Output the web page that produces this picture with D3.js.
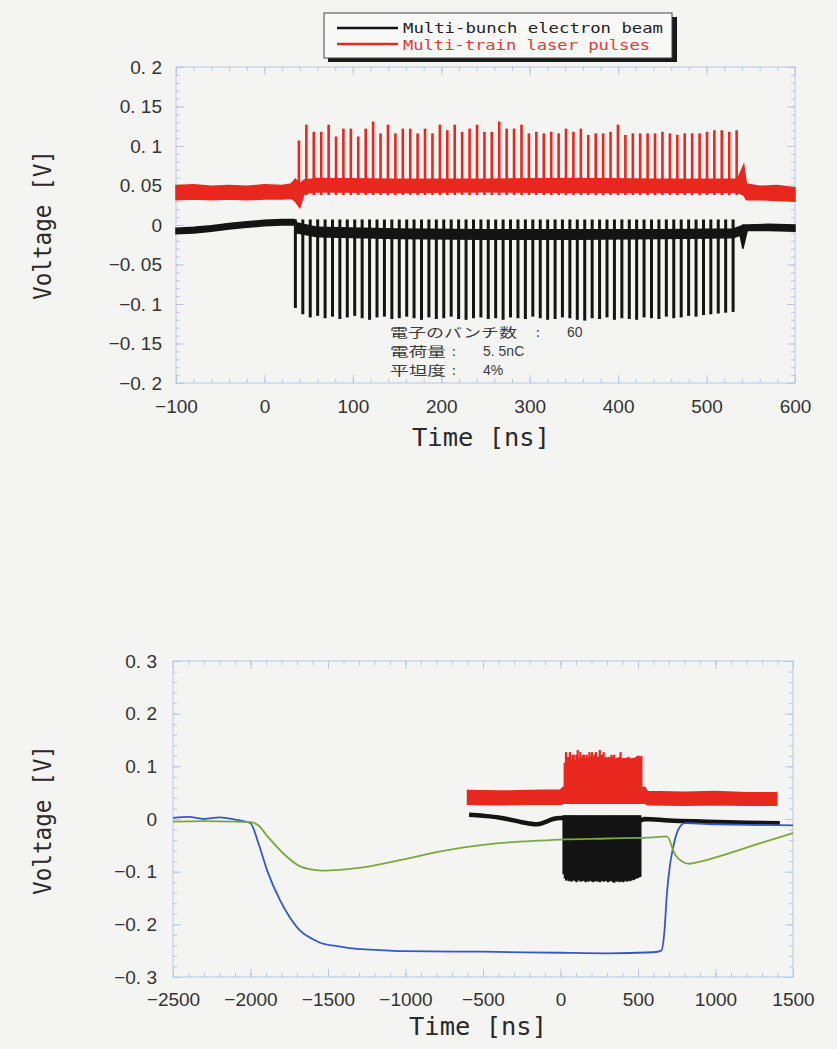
<!DOCTYPE html>
<html lang="ja">
<head>
<meta charset="UTF-8">
<title>Multi-bunch electron beam / Multi-train laser pulses</title>
<script src="https://d3js.org/d3.v7.min.js"></script>
<style>
  body { margin: 0; background: #f4f4f2; }
  .axis line { stroke: #b3c6e4; stroke-width: 1; }
  .axis text { font-family: "Liberation Sans", Arial, sans-serif; font-size: 19px; fill: #333; }
  .title { font-family: "DejaVu Sans Mono", monospace; font-size: 25px; fill: #2a2a2a; }
  .legend { font-family: "DejaVu Sans Mono", monospace; font-size: 14.5px; }
  .note { font-family: "Noto Sans CJK JP", sans-serif; font-size: 13px; fill: #3c3c3c; }
</style>
</head>
<body>
<svg id="chart" width="837" height="1049"></svg>
<script>
// ---- top panel axes ----
const topXTicks = [-100, 0, 100, 200, 300, 400, 500, 600];
const topXLabels = ["−100", "0", "100", "200", "300", "400", "500", "600"];
const topYTicks = [-0.2, -0.15, -0.1, -0.05, 0, 0.05, 0.1, 0.15, 0.2];
const topYLabels = ["−0. 2", "−0. 15", "−0. 1", "−0. 05", "0", "0. 05", "0. 1", "0. 15", "0. 2"];

// ---- bottom panel axes ----
const botXTicks = [-2500, -2000, -1500, -1000, -500, 0, 500, 1000, 1500];
const botXLabels = ["−2500", "−2000", "−1500", "−1000", "−500", "0", "500", "1000", "1500"];
const botYTicks = [-0.3, -0.2, -0.1, 0, 0.1, 0.2, 0.3];
const botYLabels = ["−0. 3", "−0. 2", "−0. 1", "0", "0. 1", "0. 2", "0. 3"];

// ---- 60 bunches: times [ns] and peak voltages [V] ----
const pulseTimes = [
  35.0, 43.4, 51.8, 60.2, 68.6, 77.0, 85.3, 93.7, 102.1, 110.5,
  118.9, 127.3, 135.7, 144.1, 152.5, 160.9, 169.2, 177.6, 186.0, 194.4,
  202.8, 211.2, 219.6, 228.0, 236.4, 244.8, 253.1, 261.5, 269.9, 278.3,
  286.7, 295.1, 303.5, 311.9, 320.3, 328.7, 337.0, 345.4, 353.8, 362.2,
  370.6, 379.0, 387.4, 395.8, 404.2, 412.6, 420.9, 429.3, 437.7, 446.1,
  454.5, 462.9, 471.3, 479.7, 488.1, 496.5, 504.8, 513.2, 521.6, 530.0
];
const beamPeaks = [
  -0.105, -0.113, -0.117, -0.115, -0.118, -0.116, -0.119, -0.117, -0.115, -0.118,
  -0.120, -0.117, -0.116, -0.119, -0.118, -0.116, -0.118, -0.120, -0.117, -0.119,
  -0.118, -0.116, -0.119, -0.120, -0.118, -0.117, -0.119, -0.118, -0.120, -0.117,
  -0.118, -0.119, -0.116, -0.118, -0.120, -0.119, -0.117, -0.118, -0.120, -0.121,
  -0.118, -0.119, -0.117, -0.120, -0.118, -0.119, -0.120, -0.117, -0.118, -0.119,
  -0.116, -0.118, -0.117, -0.115, -0.116, -0.114, -0.113, -0.112, -0.111, -0.110
];
const beamTip = 0.007;
const laserDelay = 4;
const laserPeaks = [
  0.107, 0.127, 0.118, 0.118, 0.127, 0.112, 0.122, 0.122, 0.112, 0.122,
  0.131, 0.116, 0.127, 0.116, 0.122, 0.122, 0.116, 0.122, 0.116, 0.127,
  0.120, 0.127, 0.118, 0.122, 0.127, 0.118, 0.118, 0.131, 0.122, 0.122,
  0.127, 0.116, 0.118, 0.116, 0.118, 0.116, 0.122, 0.118, 0.122, 0.114,
  0.116, 0.116, 0.118, 0.127, 0.114, 0.116, 0.116, 0.116, 0.116, 0.118,
  0.116, 0.114, 0.116, 0.116, 0.116, 0.118, 0.120, 0.120, 0.118, 0.120
];
const laserFoot = 0.038;

// ---- top panel noisy baselines (time, low, high) ----
const laserBandT = [-100, -80, -60, -40, -20, 0, 20, 30, 35, 40, 45, 60, 150, 250, 350, 450, 535, 542, 545, 560, 580, 600];
const laserBandLo = [0.032, 0.033, 0.032, 0.033, 0.032, 0.033, 0.033, 0.034, 0.030, 0.022, 0.040, 0.042, 0.041, 0.042, 0.041, 0.041, 0.041, 0.038, 0.032, 0.032, 0.031, 0.030];
const laserBandHi = [0.050, 0.051, 0.049, 0.050, 0.049, 0.051, 0.050, 0.052, 0.058, 0.052, 0.057, 0.059, 0.058, 0.058, 0.059, 0.058, 0.058, 0.076, 0.052, 0.049, 0.050, 0.047];
const beamBandT = [-100, -80, -60, -40, -20, 0, 20, 34, 36, 60, 150, 250, 350, 450, 530, 538, 541, 546, 570, 600];
const beamBandLo = [-0.011, -0.010, -0.008, -0.005, -0.003, -0.001, 0.000, 0.000, -0.010, -0.015, -0.017, -0.018, -0.018, -0.017, -0.016, -0.013, -0.030, -0.007, -0.007, -0.008];
const beamBandHi = [-0.004, -0.003, -0.001, 0.002, 0.004, 0.006, 0.007, 0.007, 0.003, -0.003, -0.005, -0.006, -0.006, -0.006, -0.005, -0.002, 0.000, 0.000, 0.001, 0.000];

// ---- bottom panel traces ----
const blueT = [-2500, -2400, -2300, -2200, -2100, -2000, -1950, -1890, -1810, -1750, -1680, -1600, -1550, -1450, -1360, -1229, -1000, -500, 0, 300, 600, 650, 670, 687, 705, 726, 760, 803, 1000, 1200, 1500];
const blueV = [0.002, 0.004, 0.000, 0.003, -0.001, -0.008, -0.045, -0.100, -0.154, -0.185, -0.212, -0.228, -0.235, -0.241, -0.245, -0.248, -0.251, -0.252, -0.254, -0.255, -0.253, -0.250, -0.215, -0.140, -0.090, -0.055, -0.020, -0.008, -0.010, -0.011, -0.012];
const greenT = [-2500, -2300, -2100, -2000, -1950, -1890, -1790, -1680, -1600, -1530, -1450, -1300, -1200, -1000, -800, -600, -400, -200, 0, 300, 600, 686, 740, 800, 830, 900, 1100, 1300, 1500];
const greenV = [-0.005, -0.004, -0.005, -0.006, -0.012, -0.033, -0.065, -0.090, -0.096, -0.098, -0.097, -0.093, -0.088, -0.076, -0.063, -0.053, -0.046, -0.042, -0.039, -0.037, -0.035, -0.033, -0.068, -0.083, -0.085, -0.081, -0.064, -0.045, -0.027];
const beamWideT = [-590, -500, -400, -345, -250, -152, -100, -48, 0, 526, 540, 700, 945, 1200, 1415];
const beamWideV = [0.008, 0.006, 0.003, 0.000, -0.006, -0.010, -0.006, 0.000, 0.002, -0.002, 0.000, -0.003, -0.005, -0.007, -0.008];
const laserWideT = [-600, -400, -200, 0, 15, 545, 560, 800, 1000, 1200, 1395];
const laserWideLo = [0.028, 0.027, 0.028, 0.028, 0.030, 0.030, 0.027, 0.026, 0.027, 0.026, 0.026];
const laserWideHi = [0.054, 0.053, 0.054, 0.055, 0.060, 0.060, 0.052, 0.051, 0.052, 0.050, 0.050];

const legendNames = ["Multi-bunch electron beam", "Multi-train laser pulses"];
const noteLines = [["電子のバンチ数", "60"], ["電荷量", "5. 5nC"], ["平坦度", "4%"]];

const BLACK = "#141414", RED = "#e8281e", BLUE = "#3558c8", GREEN = "#7aa83c";

const svg = d3.select("#chart");
svg.append("rect").attr("width", 837).attr("height", 1049).attr("fill", "#f4f4f2");

const xTop = d3.scaleLinear().domain([-100, 600]).range([176, 795]);
const yTop = d3.scaleLinear().domain([-0.2, 0.2]).range([383, 67]);
const xBot = d3.scaleLinear().domain([-2500, 1500]).range([173, 793]);
const yBot = d3.scaleLinear().domain([-0.3, 0.3]).range([977, 661]);

function drawFrame(x, y, xt, xl, yt, yl, xMinor, yMinor, xPad, yPad) {
  const [l, r] = x.range(), [b, t] = y.range();
  svg.append("rect").attr("x", l).attr("y", t).attr("width", r - l).attr("height", b - t)
    .attr("fill", "none").attr("stroke", "#b3c6e4");
  const add = (pos, axis) => svg.append("g").attr("class", "axis").attr("transform", pos).call(axis);
  add(`translate(0,${b})`, d3.axisBottom(x).tickValues(xt).tickFormat((d, i) => xl[i]).tickSize(-8).tickSizeOuter(0).tickPadding(xPad));
  add(`translate(0,${b})`, d3.axisBottom(x).ticks(xMinor).tickFormat("").tickSize(-4).tickSizeOuter(0));
  add(`translate(0,${t})`, d3.axisTop(x).tickValues(xt).tickFormat("").tickSize(-8).tickSizeOuter(0));
  add(`translate(0,${t})`, d3.axisTop(x).ticks(xMinor).tickFormat("").tickSize(-4).tickSizeOuter(0));
  add(`translate(${l},0)`, d3.axisLeft(y).tickValues(yt).tickFormat((d, i) => yl[i]).tickSize(-8).tickSizeOuter(0).tickPadding(yPad));
  add(`translate(${l},0)`, d3.axisLeft(y).ticks(yMinor).tickFormat("").tickSize(-4).tickSizeOuter(0));
  add(`translate(${r},0)`, d3.axisRight(y).tickValues(yt).tickFormat("").tickSize(-8).tickSizeOuter(0));
  add(`translate(${r},0)`, d3.axisRight(y).ticks(yMinor).tickFormat("").tickSize(-4).tickSizeOuter(0));
  svg.selectAll(".axis .domain").remove();
}

function band(x, y, T, lo, hi, color) {
  const pts = T.map((t, i) => [t, lo[i], hi[i]]);
  svg.append("path").datum(pts).attr("fill", color).attr("stroke", color).attr("stroke-width", 1.5)
    .attr("d", d3.area().x(d => x(d[0])).y0(d => y(d[1])).y1(d => y(d[2])));
}

function trace(x, y, T, V, color, w, curve) {
  svg.append("path").datum(T.map((t, i) => [t, V[i]])).attr("fill", "none")
    .attr("stroke", color).attr("stroke-width", w).attr("stroke-linejoin", "round")
    .attr("d", d3.line().x(d => x(d[0])).y(d => y(d[1])).curve(curve || d3.curveLinear));
}

function spikes(x, y, T, from, peaks, shift, color, w) {
  svg.append("g").selectAll("line").data(T).join("line")
    .attr("x1", d => x(d + shift)).attr("x2", d => x(d + shift))
    .attr("y1", y(from)).attr("y2", (d, i) => y(peaks[i]))
    .attr("stroke", color).attr("stroke-width", w);
}

// ---------- top panel ----------
drawFrame(xTop, yTop, topXTicks, topXLabels, topYTicks, topYLabels, 35, 40, 17, 14);
band(xTop, yTop, laserBandT, laserBandLo, laserBandHi, RED);
spikes(xTop, yTop, pulseTimes, laserFoot, laserPeaks, laserDelay, RED, 2.6);
band(xTop, yTop, beamBandT, beamBandLo, beamBandHi, BLACK);
spikes(xTop, yTop, pulseTimes, beamTip, beamPeaks, 0, BLACK, 3);

svg.append("text").attr("class", "title").attr("x", 481).attr("y", 446)
  .attr("text-anchor", "middle").attr("textLength", 138).attr("lengthAdjust", "spacingAndGlyphs").text("Time [ns]");
svg.append("text").attr("class", "title").attr("transform", "translate(51,225) rotate(-90)")
  .attr("text-anchor", "middle").attr("textLength", 150).attr("lengthAdjust", "spacingAndGlyphs").text("Voltage [V]");

// annotation lines
noteLines.forEach((d, i) => {
  const yy = 337 + i * 19;
  const line = svg.append("text").attr("class", "note").attr("y", yy);
  line.append("tspan").attr("x", 390)
    .attr("textLength", i === 0 ? 127 : 56).attr("lengthAdjust", "spacingAndGlyphs").text(d[0]);
  line.append("tspan").attr("x", i === 0 ? 536 : 452).text(":");
  line.append("tspan").attr("x", i === 0 ? 567 : 483)
    .style("font-family", "'Liberation Sans', Arial, sans-serif").style("font-size", "14px").text(d[1]);
});

// legend
svg.append("rect").attr("x", 328).attr("y", 17).attr("width", 349).attr("height", 45).attr("fill", "#1a1a1a");
svg.append("rect").attr("x", 324).attr("y", 13).attr("width", 348).attr("height", 45)
  .attr("fill", "#f8f8f7").attr("stroke", "#444").attr("stroke-width", 1);
[BLACK, RED].forEach((c, i) => {
  svg.append("line").attr("x1", 337).attr("x2", 398).attr("y1", 28 + i * 16).attr("y2", 28 + i * 16)
    .attr("stroke", c).attr("stroke-width", 2.5);
  svg.append("text").attr("class", "legend").attr("x", 403).attr("y", 33 + i * 17)
    .attr("fill", i ? "#e03a3a" : "#222").attr("textLength", i ? 247 : 260)
    .attr("lengthAdjust", "spacingAndGlyphs").text(legendNames[i]);
});

// ---------- bottom panel ----------
drawFrame(xBot, yBot, botXTicks, botXLabels, botYTicks, botYLabels, 40, 30, 16, 16);
band(xBot, yBot, laserWideT, laserWideLo, laserWideHi, RED);
spikes(xBot, yBot, pulseTimes, 0.04, laserPeaks, laserDelay - 12, RED, 2.2);
trace(xBot, yBot, beamWideT, beamWideV, BLACK, 4.5, d3.curveMonotoneX);
spikes(xBot, yBot, pulseTimes, beamTip, beamPeaks, -15, BLACK, 2.4);
trace(xBot, yBot, blueT, blueV, BLUE, 1.8, d3.curveMonotoneX);
trace(xBot, yBot, greenT, greenV, GREEN, 1.8, d3.curveMonotoneX);

svg.append("text").attr("class", "title").attr("x", 478).attr("y", 1035)
  .attr("text-anchor", "middle").attr("textLength", 138).attr("lengthAdjust", "spacingAndGlyphs").text("Time [ns]");
svg.append("text").attr("class", "title").attr("transform", "translate(51,820) rotate(-90)")
  .attr("text-anchor", "middle").attr("textLength", 150).attr("lengthAdjust", "spacingAndGlyphs").text("Voltage [V]");
</script>
</body>
</html>
